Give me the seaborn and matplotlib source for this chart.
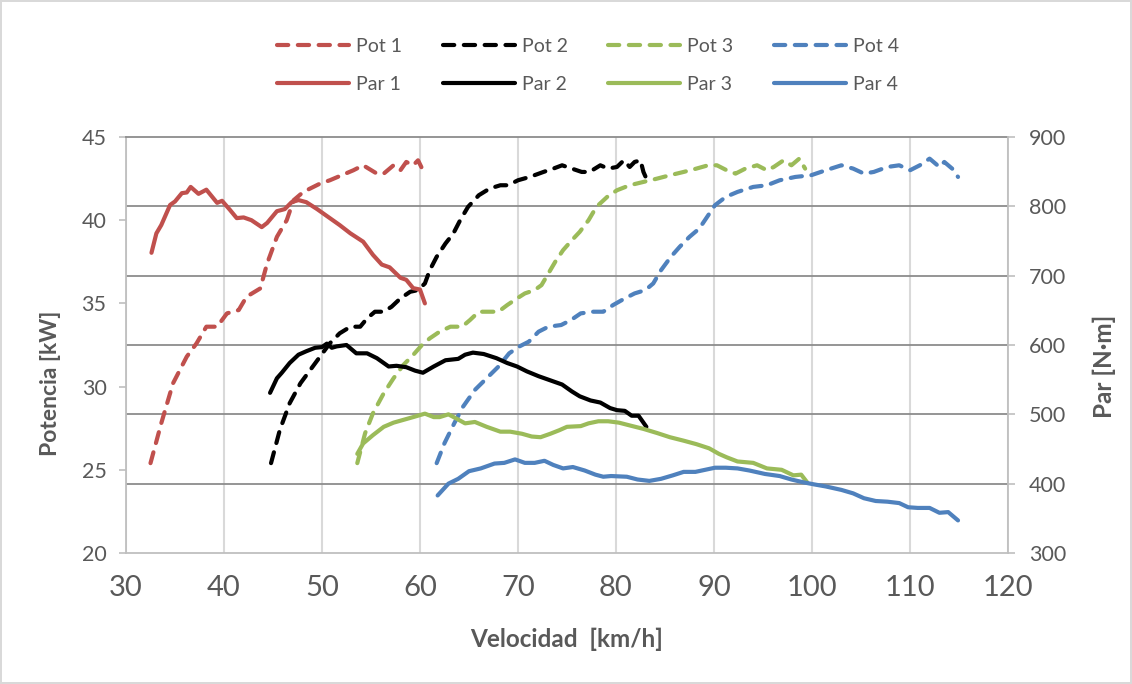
import matplotlib
matplotlib.use("Agg")
import matplotlib.pyplot as plt
import seaborn as sns
import pandas as pd
from matplotlib.ticker import FixedLocator

# ---------------- data ----------------
pot1_x = [32.5, 33.6, 34.8, 36.2, 37.2, 38.2, 39.3, 40.3, 41.5, 42.3, 43.7, 44.4, 45.4, 46.4, 47.1,
          48.1, 49.8, 50.8, 52.0, 53.2, 54.2, 55.6, 56.3, 57.3, 58.0, 58.6, 59.3, 59.8, 60.3]
pot1_y = [25.4, 27.8, 30.2, 31.8, 32.6, 33.6, 33.6, 34.4, 34.6, 35.4, 35.9, 37.4, 39.0, 40.0, 41.2,
          41.7, 42.2, 42.4, 42.7, 43.0, 43.3, 42.8, 42.8, 43.3, 43.0, 43.5, 43.3, 43.6, 43.0]

par1_x = [32.6, 33.1, 33.6, 34.5, 35.0, 35.7, 36.2, 36.6, 37.4, 38.2, 39.3, 39.8, 40.6, 41.3, 42.0,
          42.8, 43.85, 44.4, 45.4, 46.2, 46.9, 47.6, 48.4, 49.5, 50.5, 51.8, 52.9, 54.2, 55.2, 56.1,
          56.9, 58.0, 58.6, 59.3, 60.0, 60.5]
par1_y = [733, 761, 773, 802, 807, 819, 820, 828, 818, 824, 805, 808, 795, 783, 784,
          780, 770, 776, 793, 796, 806, 809, 806, 796, 786, 773, 761, 749, 730, 716,
          712, 697, 694, 682, 680, 660]

pot2_x = [44.8, 45.7, 46.7, 47.8, 48.8, 49.8, 50.8, 51.8, 52.9, 53.9, 54.6, 55.4, 56.3, 57.1, 58.0,
          59.0, 59.8, 60.5, 61.0, 61.7, 62.6, 63.4, 64.1, 64.9, 66.0, 67.1, 68.2, 69.0, 70.0, 71.2,
          72.6, 73.6, 74.5, 75.5, 76.5, 77.3, 78.4, 79.2, 80.1, 80.8, 81.4, 81.9, 82.5, 82.8, 83.1]
pot2_y = [25.4, 27.4, 29.0, 30.2, 31.0, 31.8, 32.6, 33.2, 33.6, 33.6, 34.1, 34.5, 34.5, 34.8, 35.3,
          35.7, 35.8, 36.2, 37.0, 37.8, 38.6, 39.2, 40.0, 40.8, 41.5, 41.9, 42.1, 42.1, 42.4, 42.6,
          42.9, 43.1, 43.3, 43.1, 42.9, 42.9, 43.3, 43.1, 43.2, 43.6, 43.2, 43.5, 43.6, 42.9, 42.5]

par2_x = [44.7, 45.4, 45.9, 46.7, 47.6, 48.4, 49.3, 50.0, 50.5, 51.0, 51.5, 52.5, 53.5, 54.6, 55.6,
          56.8, 57.6, 58.6, 59.5, 60.3, 61.4, 62.6, 63.9, 64.6, 65.4, 66.5, 67.8, 68.9, 69.9, 70.9,
          72.1, 73.3, 74.5, 75.5, 76.3, 77.4, 78.4, 79.4, 80.1, 80.9, 81.6, 82.3, 83.1]
par2_y = [531, 552, 560, 574, 586, 591, 596, 597, 602, 596, 598, 600, 588, 588, 581,
          569, 570, 568, 563, 560, 569, 578, 580, 586, 589, 587, 581, 574, 569, 562,
          555, 549, 543, 533, 526, 520, 517, 509, 506, 505, 498, 498, 482]

pot3_x = [53.6, 54.4, 55.2, 56.3, 57.3, 58.3, 59.3, 60.2, 61.0, 62.0, 63.1, 64.3, 65.1, 66.0, 67.0,
          68.0, 68.9, 69.9, 70.7, 71.7, 72.4, 73.1, 73.8, 74.6, 75.5, 76.3, 77.2, 78.0, 79.1, 80.1,
          81.4, 82.8, 84.2, 85.5, 86.9, 88.2, 89.4, 90.3, 91.3, 92.2, 93.2, 94.4, 95.4, 96.1, 97.1,
          97.9, 98.7, 99.3]
pot3_y = [25.4, 27.2, 28.4, 29.6, 30.5, 31.3, 31.9, 32.5, 32.9, 33.3, 33.6, 33.6, 34.0, 34.5, 34.5,
          34.5, 34.9, 35.3, 35.6, 35.8, 36.1, 36.8, 37.5, 38.2, 38.8, 39.3, 40.0, 40.8, 41.4, 41.8,
          42.1, 42.3, 42.5, 42.7, 42.9, 43.1, 43.3, 43.3, 43.0, 42.8, 43.1, 43.3, 43.0, 43.2, 43.6,
          43.3, 43.7, 43.1]

par3_x = [53.6, 54.2, 55.2, 56.3, 57.3, 58.3, 59.3, 60.5, 61.4, 62.0, 62.9, 63.7, 64.6, 65.6, 66.8,
          68.2, 69.2, 70.4, 71.4, 72.3, 73.3, 74.2, 75.0, 76.4, 77.2, 78.2, 79.2, 80.3, 81.4, 82.8,
          84.2, 85.5, 86.9, 88.2, 89.5, 90.5, 91.3, 92.4, 94.0, 95.4, 96.9, 98.1, 98.9, 99.5]
par3_y = [443, 458, 470, 482, 488, 492, 496, 501, 496, 496, 500, 494, 487, 489, 482,
          475, 475, 472, 468, 467, 472, 477, 482, 483, 487, 490, 490, 488, 484, 479,
          473, 467, 462, 457, 451, 443, 438, 432, 430, 422, 420, 412, 413, 402]

pot4_x = [61.7, 62.5, 63.5, 64.4, 65.6, 66.8, 68.0, 69.1, 70.1, 71.1, 72.1, 73.1, 74.4, 75.4, 76.4,
          77.6, 78.7, 79.7, 80.9, 81.9, 83.0, 83.8, 84.6, 85.6, 86.5, 87.5, 88.5, 89.3, 90.1, 91.2,
          92.4, 94.0, 95.4, 96.7, 98.3, 99.9, 101.4, 103.0, 104.2, 105.3, 106.3, 107.7, 108.9, 110.0,
          111.0, 112.0, 113.0, 113.5, 114.3, 114.9]
pot4_y = [25.4, 26.6, 27.8, 28.8, 29.8, 30.5, 31.2, 32.0, 32.4, 32.7, 33.3, 33.6, 33.7, 34.0, 34.4,
          34.5, 34.5, 34.9, 35.3, 35.6, 35.8, 36.2, 37.0, 37.8, 38.4, 39.0, 39.5, 40.2, 40.9, 41.4,
          41.7, 42.0, 42.1, 42.4, 42.6, 42.7, 43.0, 43.3, 43.1, 42.8, 42.9, 43.2, 43.3, 43.0,
          43.3, 43.7, 43.2, 43.5, 43.1, 42.6]

par4_x = [61.8, 62.9, 63.9, 65.0, 66.2, 67.6, 68.6, 69.7, 70.7, 71.7, 72.7, 73.6, 74.6, 75.6, 76.8,
          77.9, 78.7, 79.5, 81.1, 82.2, 83.4, 84.6, 85.8, 86.9, 88.1, 89.1, 90.1, 91.2, 92.4, 93.6,
          95.2, 96.7, 97.9, 99.1, 100.2, 101.4, 103.0, 104.2, 105.3, 106.5, 107.7, 108.9, 109.8,
          110.8, 112.0, 113.0, 113.9, 114.9]
par4_y = [383, 400, 407, 418, 422, 429, 430, 435, 430, 430, 433, 427, 422, 424, 419,
          413, 410, 411, 410, 406, 404, 407, 412, 417, 417, 420, 423, 423, 422, 419,
          414, 411, 406, 402, 399, 396, 391, 386, 379, 375, 374, 372, 366,
          365, 365, 358, 359, 347]

pot_labels = ["Pot 1", "Pot 2", "Pot 3", "Pot 4"]
par_labels = ["Par 1", "Par 2", "Par 3", "Par 4"]
x_ticks = [30, 40, 50, 60, 70, 80, 90, 100, 110, 120]
kw_ticks = [20, 25, 30, 35, 40, 45]
nm_ticks = [300, 400, 500, 600, 700, 800, 900]

# ---------------- style ----------------
sns.set_theme(style="white")
plt.rcParams['font.family'] = ['Lato', 'DejaVu Sans']
TXT = '#595959'
colors = ['#C0504D', '#000000', '#9BBB59', '#4F81BD']
LW = 3.0
DASH = (0, (2.7, 2.3))

fig = plt.figure(figsize=(11.32, 6.84), dpi=100)
fig.patch.set_facecolor('white')
fig.patch.set_edgecolor('#d9d9d9')
fig.patch.set_linewidth(1.5)

ax = fig.add_axes([126 / 1132, 131 / 684, 882 / 1132, 416 / 684])
ax2 = ax.twinx()

ax.set_xlim(x_ticks[0], x_ticks[-1])
ax.set_ylim(kw_ticks[0], kw_ticks[-1])
ax2.set_ylim(nm_ticks[0], nm_ticks[-1])
ax.set_xticks(x_ticks)
ax.set_yticks(kw_ticks)
ax2.set_yticks(nm_ticks)

# horizontal gridlines follow the right axis ticks; drawn on ax so they stay below all curves
def nm_to_kw(v):
    return kw_ticks[0] + (v - nm_ticks[0]) * (kw_ticks[-1] - kw_ticks[0]) / (nm_ticks[-1] - nm_ticks[0])

ax.yaxis.set_minor_locator(FixedLocator([nm_to_kw(v) for v in nm_ticks[1:-1]]))
ax.grid(False)
ax.grid(True, which='minor', axis='y', color='#8c8c8c', lw=1.3)
ax.grid(True, which='major', axis='x', color='#d9d9d9', lw=1.5)
ax.set_axisbelow(True)
ax2.grid(False)

pots = [(pot1_x, pot1_y), (pot2_x, pot2_y), (pot3_x, pot3_y), (pot4_x, pot4_y)]
pars = [(par1_x, par1_y), (par2_x, par2_y), (par3_x, par3_y), (par4_x, par4_y)]

for (xs, ys), c, lab in zip(pots, colors, pot_labels):
    df = pd.DataFrame({"v": xs, "p": ys})
    sns.lineplot(data=df, x="v", y="p", ax=ax, color=c, lw=LW, linestyle=DASH,
                 dash_capstyle='round', dash_joinstyle='round', label=lab,
                 estimator=None, sort=False)
for (xs, ys), c, lab in zip(pars, colors, par_labels):
    df = pd.DataFrame({"v": xs, "t": ys})
    sns.lineplot(data=df, x="v", y="t", ax=ax2, color=c, lw=LW,
                 solid_capstyle='round', solid_joinstyle='round', label=lab,
                 estimator=None, sort=False)

h1, l1 = ax.get_legend_handles_labels()
h2, l2 = ax2.get_legend_handles_labels()
for a in (ax, ax2):
    if a.get_legend() is not None:
        a.get_legend().remove()

handles, labels = [], []
for i in range(4):
    handles += [h1[i], h2[i]]
    labels += [l1[i], l2[i]]
fig.legend(handles, labels, ncol=4, loc='center', bbox_to_anchor=(588 / 1132, 1 - 65.5 / 684),
           frameon=False, fontsize=14, handlelength=3.7, handletextpad=0.36,
           columnspacing=2.1, labelspacing=1.1, labelcolor=TXT)

# spines
for s in ['left', 'bottom']:
    ax.spines[s].set_color('#bfbfbf')
    ax.spines[s].set_linewidth(1.3)
ax.spines['top'].set_color('#8c8c8c')
ax.spines['top'].set_linewidth(1.3)
ax.spines['right'].set_visible(False)
for s in ['left', 'bottom', 'top']:
    ax2.spines[s].set_visible(False)
ax2.spines['right'].set_color('#bfbfbf')
ax2.spines['right'].set_linewidth(1.3)

ax.tick_params(axis='y', which='major', direction='out', length=5, width=1.2, color='#bfbfbf',
               labelsize=15.5, labelcolor=TXT, pad=9, left=True)
ax.tick_params(axis='y', which='minor', length=0)
ax.tick_params(axis='x', length=0, labelsize=21, labelcolor=TXT, pad=16)
ax2.tick_params(axis='y', direction='out', length=5, width=1.2, color='#bfbfbf',
                labelsize=15.5, labelcolor=TXT, pad=10, right=True)

ax.set_xlabel("Velocidad  [km/h]", fontsize=17.5, fontweight='bold', color=TXT)
ax.set_ylabel("Potencia [kW]", fontsize=16.5, fontweight='bold', color=TXT)
ax2.set_ylabel("Par [N·m]", fontsize=17.5, fontweight='bold', color=TXT)
ax.xaxis.set_label_coords(0.5, -86 / 416)
ax.xaxis.label.set_va('center')
ax.yaxis.set_label_coords((51 - 126) / 882, (553 - 383) / 416)
ax.yaxis.label.set_va('center')
ax2.yaxis.set_label_coords((1104 - 126) / 882, (553 - 366) / 416)
ax2.yaxis.label.set_va('center')

fig.savefig("out.png", dpi=100)
